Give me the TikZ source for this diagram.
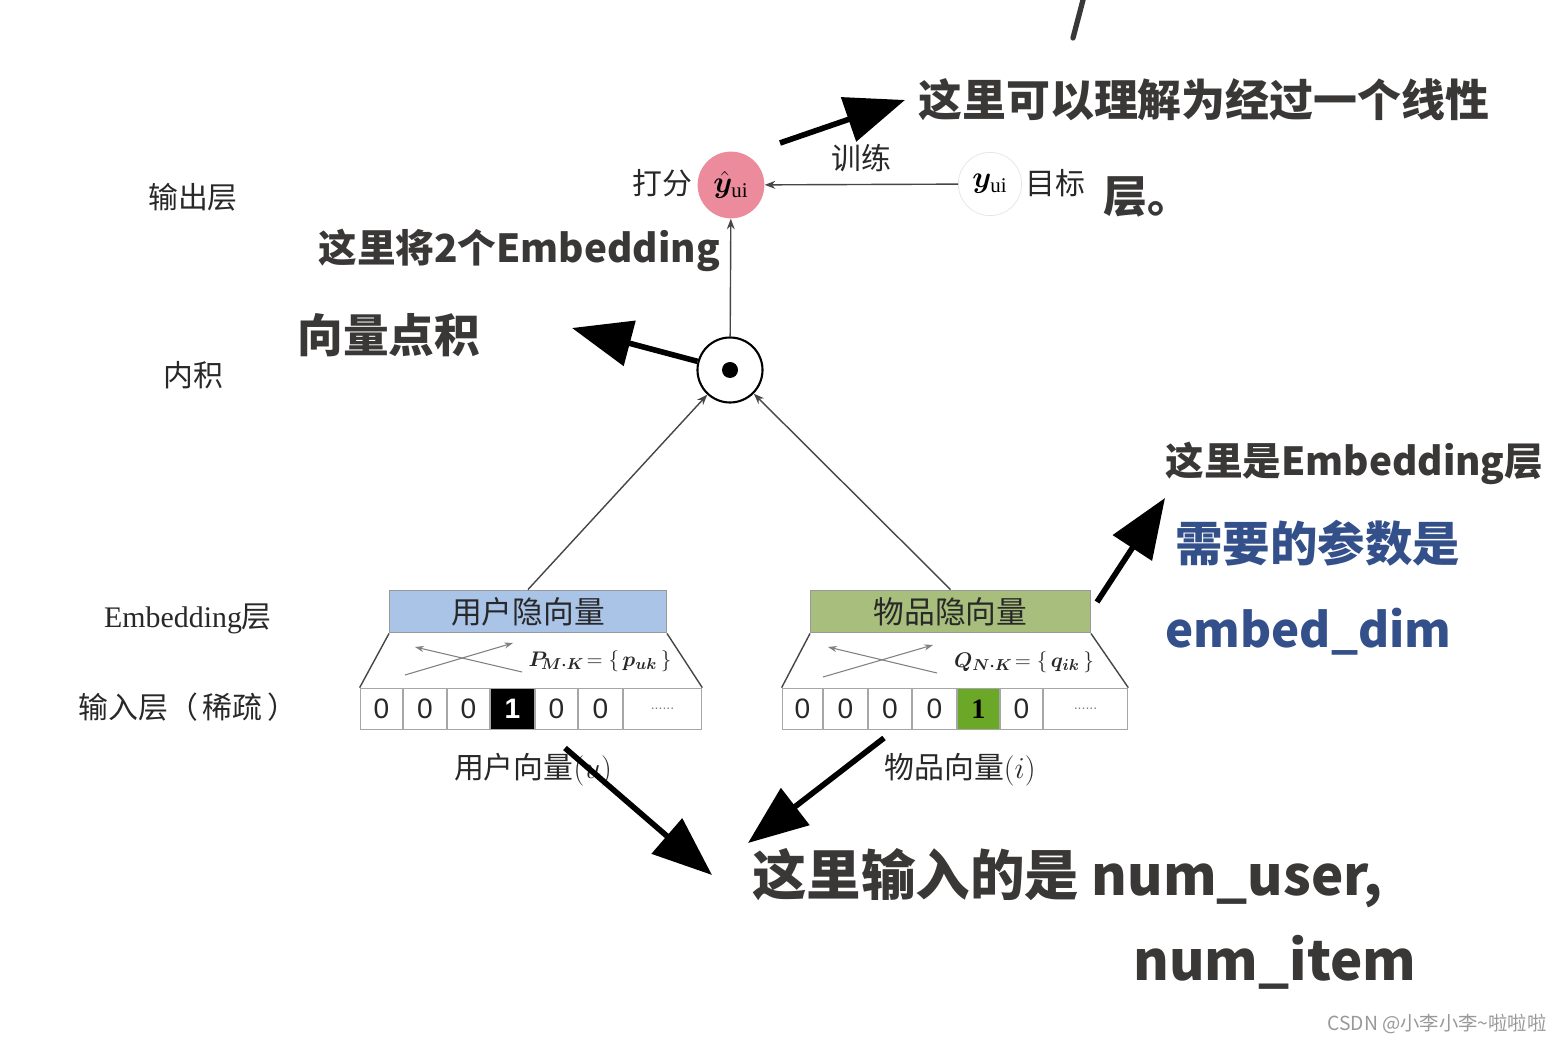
\documentclass[tikz,border=0pt]{standalone}
\usepackage{fontspec}
\usepackage{bm}
\setmainfont{Liberation Serif}
\newfontfamily\cjk{Noto Sans CJK SC}
\newfontfamily\sansf{Liberation Sans}
\usetikzlibrary{arrows.meta}
\definecolor{pinkc}{RGB}{236,139,156}
\definecolor{bluebox}{RGB}{170,196,232}
\definecolor{greenbox}{RGB}{168,190,125}
\definecolor{greencell}{RGB}{108,168,40}
\definecolor{ink}{RGB}{58,55,55}
\definecolor{blueink}{RGB}{52,80,138}
\definecolor{txt}{RGB}{40,40,40}
\definecolor{linec}{RGB}{70,70,70}
\tikzset{
  lbl/.style={font=\cjk\fontsize{17}{20}\selectfont, text=txt, inner sep=0},
  thinarrow/.style={draw=linec, line width=0.8pt, -{Stealth[length=6pt,width=4.5pt]}},
  crossarrow/.style={draw=gray, line width=0.6pt, -{Stealth[length=5pt,width=3.5pt]}},
  bigarrow/.style={draw=black, line width=3.2pt, -{Triangle[length=34pt,width=26pt]}},
  handnote/.style={font=\cjk\bfseries\fontsize{#1}{#1}\selectfont, text=ink, anchor=west, inner sep=0},
  cellbox/.style={draw=gray!70, line width=0.5pt, inner sep=0, minimum height=23.8pt,
    font=\sansf\fontsize{16}{16}\selectfont, text=txt},
  latent/.style={draw=gray!80, line width=0.6pt, minimum height=24.4pt, inner sep=0,
    font=\cjk\fontsize{17.5}{20}\selectfont, text=txt},
  trap/.style={draw=linec, line width=0.8pt},
  formula/.style={font=\fontsize{13}{15}\selectfont, text=txt, inner sep=0},
}
\begin{document}
\begin{tikzpicture}[x=0.02cm,y=-0.02cm]
\useasboundingbox[fill=white] (0,0) rectangle (1563,1043);

% left layer labels
\node[lbl] (lout) at (193,197) {输出层};
\node[lbl] (lin) at (193,375) {内积};
\node[lbl, font=\fontsize{17}{20}\selectfont] (lemb) at (188,619) {Embedding{\cjk 层}};
\node[lbl] (linp) at (188,707) {输入层（\,稀疏\,）};

% output layer
\node[circle, fill=pinkc, minimum size=38pt, inner sep=0, font=\fontsize{17}{20}\selectfont] (out) at (731,185) {$\hat{\bm y}_{\mathrm{ui}}$};
\node[lbl] (score) at (662,183) {打分};
\node[circle, draw=gray!20, minimum size=36pt, inner sep=0, font=\fontsize{17}{20}\selectfont] (tgt) at (990,184) {$\bm{y}_{\mathrm{ui}}$};
\node[lbl] (goal) at (1055,183) {目标};
\draw[thinarrow] (tgt) -- node[lbl, above=7pt] (train) {训练} (out);

% inner product
\node[circle, draw=black, line width=1.2pt, fill=white, minimum size=37pt, inner sep=0] (dot) at (730,370) {};
\fill (dot.center) circle[radius=8];
\draw[thinarrow] (dot) -- (out);

% embedding boxes
\node[latent, fill=bluebox, minimum width=157.6pt] (ubox) at (528,611.5) {用户隐向量};
\node[latent, fill=greenbox, minimum width=159.3pt] (ibox) at (950.5,611.5) {物品隐向量};
\draw[thinarrow] (ubox.north) -- (dot);
\draw[thinarrow] (ibox.north) -- (dot);

% user input cells
\foreach \a/\b/\t/\n in {360/403/0/u1, 403/447/0/u2, 447/490/0/u3, 535/578/0/u5, 578/623/0/u6}
  \node[cellbox, minimum width={(\b-\a)*0.567pt}] (\n) at ({(\a+\b)/2},709) {\t};
\node[cellbox, fill=black, text=white, font=\sansf\bfseries\fontsize{16}{16}\selectfont, minimum width={45*0.567pt}] (u4) at (512.5,709) {1};
\node[cellbox, minimum width={79*0.567pt}, font=\sansf\fontsize{8}{8}\selectfont, text=gray] (u7) at (662.5,709) {......};

% item input cells
\foreach \a/\b/\t/\n in {782/823/0/i1, 823/868/0/i2, 868/912/0/i3, 912/957/0/i4, 1000/1043/0/i6}
  \node[cellbox, minimum width={(\b-\a)*0.567pt}] (\n) at ({(\a+\b)/2},709) {\t};
\node[cellbox, fill=greencell, text=black, font=\bfseries\fontsize{16}{16}\selectfont, minimum width={43*0.567pt}] (i5) at (978.5,709) {1};
\node[cellbox, minimum width={85*0.567pt}, font=\sansf\fontsize{8}{8}\selectfont, text=gray] (i7) at (1085.5,709) {......};

% trapezoids
\draw[trap] (ubox.south west) -- (u1.north west);
\draw[trap] (ubox.south east) -- (u7.north east);
\draw[trap] (ibox.south west) -- (i1.north west);
\draw[trap] (ibox.south east) -- (i7.north east);

% crossing arrows
\coordinate (ua1) at (522,672); \coordinate (ua2) at (415,647);
\coordinate (ub1) at (405,675); \coordinate (ub2) at (513,643);
\draw[crossarrow] (ua1) -- (ua2);
\draw[crossarrow] (ub1) -- (ub2);
\coordinate (ia1) at (937,673); \coordinate (ia2) at (828,647);
\coordinate (ib1) at (823,677); \coordinate (ib2) at (933,645);
\draw[crossarrow] (ia1) -- (ia2);
\draw[crossarrow] (ib1) -- (ib2);
\node[formula] (pf) at (600,661) {$\bm{P}_{\!\bm{M\cdot K}}\!=\{\,\bm{p}_{\bm{uk}}\,\}$};
\node[formula] (qf) at (1024,662) {$\bm{Q}_{\bm{N\cdot K}}\!=\{\,\bm{q}_{\bm{ik}}\,\}$};

% vector labels
\node[lbl] (uvec) at (533,770) {用户向量$(u)$};
\node[lbl] (ivec) at (960,770) {物品向量$(i)$};

% handwritten notes
\node[handnote=25] (n1) at (918,100) {这里可以理解为经过一个线性};
\node[handnote=25] (n1b) at (1103,197) {层。};
\node[handnote=22] (n2) at (318,250) {这里将2个Embedding};
\node[handnote=26] (n2b) at (297,335) {向量点积};
\node[handnote=22] (n3) at (1165,463) {这里是Embedding层};
\node[handnote=27, text=blueink] (n3b) at (1175,543) {需要的参数是};
\node[handnote=27, text=blueink] (n3c) at (1165,632) {embed\_dim};
\node[handnote=31] (n4) at (752,878) {这里输入的是 num\_user,};
\node[handnote=31] (n4b) at (1133,962) {num\_item};

% annotation arrows
\coordinate (a1s) at (780,143); \coordinate (a1t) at (905,100);
\coordinate (a2t) at (572,328);
\coordinate (a3s) at (1097,602); \coordinate (a3t) at (1165,498);
\coordinate (a4s) at (565,748); \coordinate (a4t) at (712,875);
\coordinate (a5s) at (884,738); \coordinate (a5t) at (748,843);
\draw[bigarrow] (a1s) -- (a1t);
\draw[bigarrow] (dot) -- (a2t);
\draw[bigarrow] (a3s) -- (a3t);
\draw[bigarrow] (a4s) -- (a4t);
\draw[bigarrow] (a5s) -- (a5t);

% cut-off stroke at the top
\draw[draw=ink, line width=3pt, line cap=round] (1083,0) -- (1073,38);

% watermark
\node[font=\cjk\fontsize{11}{13}\selectfont, text=gray!80, inner sep=0] (wm) at (1437,1024) {CSDN @小李小李\textasciitilde 啦啦啦};
\end{tikzpicture}
\end{document}
